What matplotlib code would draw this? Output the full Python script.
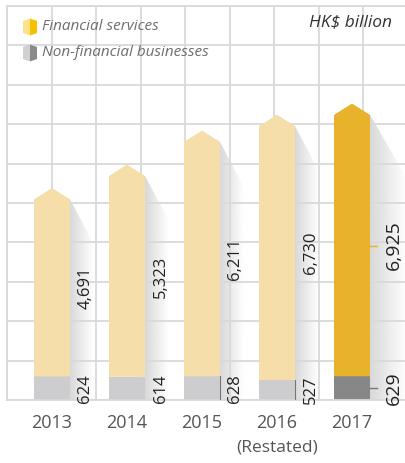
import numpy as np
import matplotlib
matplotlib.use("Agg")
import matplotlib.pyplot as plt
from matplotlib.patches import Polygon

years = ["2013", "2014", "2015", "2016", "2017"]
sublabels = ["", "", "", "(Restated)", ""]
financial = [4691, 5323, 6211, 6730, 6925]
non_financial = [624, 614, 628, 527, 629]

fin_colors = ["#f5dea9"] * 4 + ["#e8b32b"]
non_colors = ["#cdcdcf"] * 4 + ["#878787"]

plt.rcParams['font.family'] = ['Open Sans', 'DejaVu Sans']

W, H = 405, 463
fig = plt.figure(figsize=(W / 100, H / 100), dpi=100)
# axes placed in pixel terms: left edge 7px, bottom at 400px, top at 6px
ax = fig.add_axes([7 / W, (H - 400) / H, (412 - 7) / W, 394 / H])

px_per_cat = 75.0          # horizontal pixels between bars
x0 = (7 - 52) / px_per_cat
x1 = x0 + (412 - 7) / px_per_cat
ymax = 10440
ax.set_xlim(x0, x1)
ax.set_ylim(0, ymax)

grid_col = "#d9d9d9"
for gx in x0 + np.arange(0, 10) * 44.5 / px_per_cat:
    ax.axvline(gx, color=grid_col, lw=1.3, zorder=1)
for gy in np.linspace(0, ymax, 11):
    ax.axhline(gy, color=grid_col, lw=1.3, zorder=1)
for s in ax.spines.values():
    s.set_color(grid_col)
    s.set_linewidth(1.3)
ax.set_xticks([])
ax.set_yticks([])

bw = 36 / px_per_cat
peak = 300
ypx = ymax / 394.0   # data units per pixel

for i, (f, n) in enumerate(zip(financial, non_financial)):
    total = f + n
    left, right = i - bw / 2, i + bw / 2
    last = i == len(years) - 1

    # soft shadow to the right of the bar
    sw = (36 if last else 24) / px_per_cat
    drop = (62 if last else 45) * ypx
    shadow = Polygon([(right, total), (right + sw, total - drop),
                      (right + sw, 0), (right, 0)], closed=True,
                     facecolor="none", edgecolor="none")
    ax.add_patch(shadow)
    grad = np.zeros((2, 64, 4))
    grad[..., :3] = 0.80
    grad[..., 3] = np.linspace(0.75, 0.0, 64)[None, :]
    im = ax.imshow(grad, extent=(right, right + sw, 0, total), aspect="auto",
                   origin="lower", zorder=0.5, interpolation="bilinear")
    im.set_clip_path(shadow)

    # bars
    ax.bar(i, n, width=bw, color=non_colors[i], zorder=2, linewidth=0)
    top = Polygon([(left, n), (left, total), (i, total + peak),
                   (right, total), (right, n)], closed=True,
                  facecolor=fin_colors[i], edgecolor="none", zorder=2)
    ax.add_patch(top)

    # value labels
    off = (23.5 if last else 15.5) / px_per_cat
    fs = 14 if last else 12
    ax.text(right + off, n + f / 2, f"{f:,}", rotation=90, ha="center",
            va="center", fontsize=fs, color="#222222", zorder=4)
    ax.text(right + off, n / 2, f"{n:,}", rotation=90, ha="center",
            va="center", fontsize=fs, color="#222222", zorder=4)
    if last:
        ax.plot([right, right + 7 / px_per_cat], [n + f / 2] * 2,
                color="#e8b32b", lw=1, zorder=3)
        ax.plot([right, right + 7 / px_per_cat], [n / 2] * 2,
                color="#777777", lw=1, zorder=3)
    elif i in (2, 3):
        ax.plot([right, right], [0, n], color="#777777", lw=0.8, zorder=3)

    # category labels
    ax.text(i, -23 / 394, years[i], transform=ax.get_xaxis_transform(),
            ha="center", va="center", fontsize=13, color="#555555")
    if sublabels[i]:
        ax.text(i, -47 / 394, sublabels[i], transform=ax.get_xaxis_transform(),
                ha="center", va="center", fontsize=12.5, color="#555555")


def hex_icon(cx, cy, lc, rc):
    # small hexagonal icon in pixel coordinates (y from top)
    tr = fig.transFigure
    def p(x, y):
        return (x / W, 1 - y / H)
    w, h, k = 7, 8.5, 2.5
    leftpoly = [p(cx, cy - h), p(cx - w, cy - h + k), p(cx - w, cy + h - k), p(cx, cy + h)]
    rightpoly = [p(cx, cy - h), p(cx + w, cy - h + k), p(cx + w, cy + h - k), p(cx, cy + h)]
    fig.patches.append(Polygon(leftpoly, closed=True, transform=tr,
                               facecolor=lc, edgecolor="none", zorder=5))
    fig.patches.append(Polygon(rightpoly, closed=True, transform=tr,
                               facecolor=rc, edgecolor="none", zorder=5))


hex_icon(30, 27, "#fde28a", "#f5c000")
hex_icon(30, 53, "#d0d0d0", "#8a8a8a")
fig.text(42 / W, 1 - 27 / H, "Financial services", style="italic",
         fontsize=11, color="#6d6d6d", va="center", ha="left")
fig.text(42 / W, 1 - 53 / H, "Non-financial businesses", style="italic",
         fontsize=11, color="#6d6d6d", va="center", ha="left")
fig.text(392 / W, 1 - 22 / H, "HK$ billion", style="italic",
         fontsize=12.5, color="#333333", va="center", ha="right")

fig.savefig("out.png", dpi=100)
